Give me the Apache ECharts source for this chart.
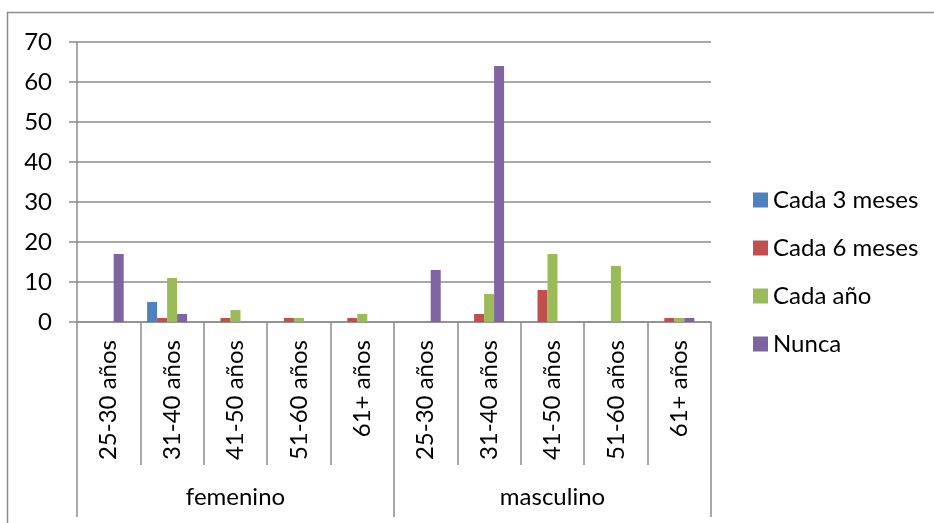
<!DOCTYPE html>
<html>
<head>
<meta charset="utf-8">
<script src="https://cdn.jsdelivr.net/npm/echarts@6/dist/echarts.min.js"></script>
<style>
html,body{margin:0;padding:0;background:#fff;}
#chart{width:934px;height:523px;}
</style>
</head>
<body>
<div id="chart"></div>
<script>
const ageCategories = ['25-30 años','31-40 años','41-50 años','51-60 años','61+ años',
                       '25-30 años','31-40 años','41-50 años','51-60 años','61+ años'];
const genderGroups = ['femenino','masculino'];
const yTicks = [0,10,20,30,40,50,60,70];
const seriesNames = ['Cada 3 meses','Cada 6 meses','Cada año','Nunca'];
const cada3Meses = [null,5,null,null,null, null,null,null,null,null];
const cada6Meses = [null,1,1,1,1, null,2,8,null,1];
const cadaAno    = [null,11,3,1,2, null,7,17,14,1];
const nunca      = [17,2,null,null,null, 13,64,null,null,1];
const emptySlot  = [null,null,null,null,null, null,null,null,null,null];
const colors = ['#4F81BD','#C0504D','#9BBB59','#8064A2'];

const FONT = 'Lato';
const FS = 24;
const GRAY = '#8c8c8c';
const chart = echarts.init(document.getElementById('chart'), null, {renderer:'canvas'});

const values = [cada3Meses, cada6Meses, cadaAno, nunca];
const series = values.map((d,i)=>({
  name: seriesNames[i], type:'bar', data:d, barWidth:10, barGap:'0%',
  itemStyle:{color:colors[i]}, silent:true
}));
series.push({name:'_', type:'bar', data:emptySlot, barWidth:10, barGap:'0%', silent:true});

chart.setOption({
  animation:false,
  textStyle:{fontFamily:FONT},
  graphic:[{type:'rect', shape:{x:7.5,y:12.5,width:1000,height:600},
    style:{fill:'none', stroke:GRAY, lineWidth:1.5}, silent:true}],
  grid:{left:77, top:42, right:223, bottom:201, containLabel:false},
  legend:{
    data: seriesNames, orient:'vertical', left:748, top:183,
    itemWidth:15, itemHeight:15, itemGap:24, icon:'rect',
    textStyle:{fontFamily:FONT, fontSize:FS, color:'#000', lineHeight:24},
    selectedMode:false
  },
  xAxis:[
    {type:'category', data:ageCategories, position:'bottom',
     axisLine:{show:true, lineStyle:{color:GRAY, width:1.5}},
     axisTick:{show:true, interval:0, length:143, lineStyle:{color:GRAY, width:1.5}},
     axisLabel:{interval:0, rotate:90, margin:18, fontFamily:FONT, fontSize:FS, color:'#000'}},
    {type:'category', data:genderGroups, position:'bottom',
     axisLine:{show:false},
     axisTick:{show:true, interval:0, length:195, lineStyle:{color:GRAY, width:1.5}},
     axisLabel:{interval:0, margin:163, fontFamily:FONT, fontSize:FS, color:'#000'}}
  ],
  yAxis:{type:'value', min:yTicks[0], max:yTicks[yTicks.length-1], interval:10,
    axisLine:{show:true, lineStyle:{color:GRAY, width:1.5}},
    axisTick:{show:true, length:8, lineStyle:{color:GRAY, width:1.5}},
    splitLine:{show:true, lineStyle:{color:GRAY, width:1.5}},
    axisLabel:{margin:25, fontFamily:FONT, fontSize:FS, color:'#000'}},
  series: series
});
</script>
</body>
</html>
